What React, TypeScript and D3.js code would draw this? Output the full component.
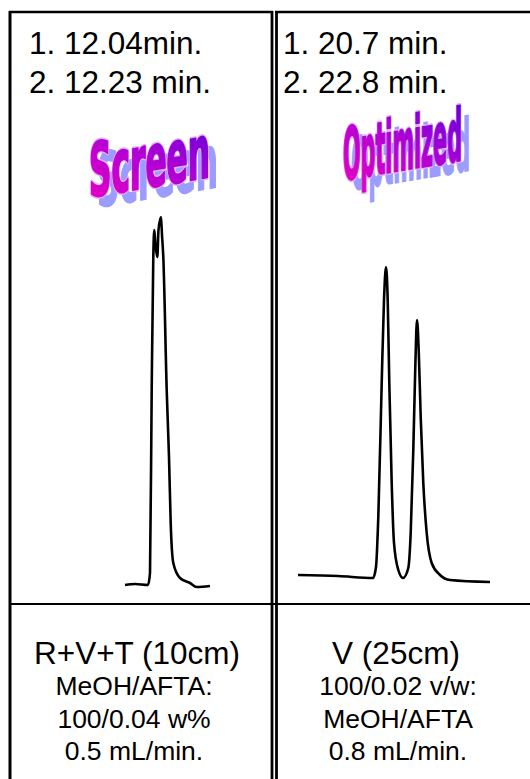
import * as d3 from "d3";
import { useLayoutEffect, useRef } from "react";

// retention times shown in the header of each panel
const screenTimes = ["1. 12.04min.", "2. 12.23 min."];
const optimizedTimes = ["1. 20.7 min.", "2. 22.8 min."];

// conditions printed under each chromatogram
const screenConditions = ["MeOH/AFTA:", "100/0.04 w%", "0.5 mL/min."];
const optimizedConditions = ["100/0.02 v/w:", "MeOH/AFTA", "0.8 mL/min."];
const screenColumn = "R+V+T (10cm)";
const optimizedColumn = "V (25cm)";

// screen trace: time (arb.) and detector signal (arb.)
const screenT = [0, 10, 23, 25, 26.7, 28.3, 29.3, 30.5, 32.3, 33.5, 36, 37, 38.3, 41.7, 44, 45.7, 48.3, 55, 65, 71.7, 85];
const screenS = [0, 1, 0, 12, 195, 328, 355, 340, 328, 355, 368, 350, 328, 195, 128, 62, 22, 7, 2, -2, -1];

// optimized trace
const optT = [0, 40, 75, 78, 80.3, 83.7, 86, 88, 89.7, 91.3, 93.7, 96, 100.3, 105, 110.3, 112.7, 115.3, 117.3, 119, 120.7, 122.7, 125.3, 128.7, 133.7, 142, 152, 192];
const optS = [7, 6, 4, 15, 65, 199, 282, 315, 282, 199, 99, 39, 12, 4, 14, 49, 132, 215, 262, 232, 165, 99, 49, 19, 7, 2, 0];

const W = 530;
const H = 779;

const line = (t: number[], s: number[], x: d3.ScaleLinear<number, number>, y: d3.ScaleLinear<number, number>) =>
  d3
    .line<number>()
    .x((_, i) => x(t[i]))
    .y((d) => y(d))
    .curve(d3.curveMonotoneX)(s) || "";

// slanted gradient title with a drop shadow, squeezed to a given width
const WordArt = ({ text, x, y, len, size, id }: { text: string; x: number; y: number; len: number; size: number; id: string }) => {
  const ref = useRef<SVGGElement>(null);

  useLayoutEffect(() => {
    const g = d3.select(ref.current);
    g.selectAll<SVGTextElement, unknown>("text").each(function () {
      const w = this.getComputedTextLength();
      if (w > 0) d3.select(this).attr("transform", `scale(${len / w},1)`);
    });
  }, [text, len, size]);

  const fontFamily = "'DejaVu Sans Condensed', 'DejaVu Sans'";
  return (
    <g ref={ref}>
      <g transform={`translate(${x + 8},${y + 10}) skewY(-9.5)`}>
        <text fontFamily={fontFamily} fontWeight="bold" fontSize={size} fill="#9c9cff" stroke="#9c9cff" strokeWidth={2}>
          {text}
        </text>
      </g>
      <g transform={`translate(${x},${y}) skewY(-9.5)`}>
        <text fontFamily={fontFamily} fontWeight="bold" fontSize={size} fill="none" stroke="#e2b0ff" strokeWidth={5} strokeLinejoin="round">
          {text}
        </text>
        <text fontFamily={fontFamily} fontWeight="bold" fontSize={size} fill={`url(#${id})`} stroke={`url(#${id})`} strokeWidth={2.2} strokeLinejoin="round">
          {text}
        </text>
      </g>
    </g>
  );
};

export default function App() {
  const xL = d3.scaleLinear().domain([0, 85]).range([125, 210]);
  const yL = d3.scaleLinear().domain([0, 370]).range([585, 215]);
  const xR = d3.scaleLinear().domain([0, 192]).range([298, 490]);
  const yR = d3.scaleLinear().domain([0, 315]).range([582, 267]);

  const font = "'Liberation Sans', Arial, sans-serif";

  return (
    <svg width={W} height={H} style={{ position: "absolute", left: 0, top: 0, background: "#fff" }}>
      <defs>
        {["gScreen", "gOpt"].map((id) => (
          <linearGradient key={id} id={id} x1="0" y1="1" x2="1" y2="0">
            <stop offset="0" stopColor="#ee00c0" />
            <stop offset="0.5" stopColor="#b400d4" />
            <stop offset="1" stopColor="#5800d8" />
          </linearGradient>
        ))}
      </defs>

      {/* table frame */}
      <g stroke="#000" fill="none">
        <line x1={9} x2={273} y1={12} y2={12} strokeWidth={2.5} />
        <line x1={275} x2={W} y1={12} y2={12} strokeWidth={2.5} />
        <line x1={10} x2={10} y1={11} y2={H} strokeWidth={3} />
        <line x1={272} x2={272} y1={11} y2={H} strokeWidth={2.8} />
        <line x1={276.5} x2={276.5} y1={11} y2={H} strokeWidth={2.8} />
        <line x1={10} x2={W} y1={604} y2={604} strokeWidth={2} />
      </g>

      {/* header texts */}
      <g fontFamily={font} fontSize={31.5} fill="#000">
        {screenTimes.map((t, i) => (
          <text key={t} x={29} y={54 + i * 38.5}>
            {t}
          </text>
        ))}
        {optimizedTimes.map((t, i) => (
          <text key={t} x={283} y={54 + i * 38.5}>
            {t}
          </text>
        ))}
      </g>

      <WordArt text="Screen" x={89} y={197} len={121} size={74} id="gScreen" />
      <WordArt text="Optimized" x={343} y={180} len={119} size={72} id="gOpt" />

      {/* chromatograms */}
      <path d={line(screenT, screenS, xL, yL)} fill="none" stroke="#000" strokeWidth={2.6} strokeLinejoin="round" />
      <path d={line(optT, optS, xR, yR)} fill="none" stroke="#000" strokeWidth={2.6} strokeLinejoin="round" />

      {/* conditions */}
      <g fontFamily={font} fill="#000" textAnchor="middle">
        <text x={137} y={664} fontSize={31.5}>
          {screenColumn}
        </text>
        <text x={396} y={664} fontSize={31.5}>
          {optimizedColumn}
        </text>
        {screenConditions.map((t, i) => (
          <text key={t} x={134} y={695 + i * 32.5} fontSize={26.5}>
            {t}
          </text>
        ))}
        {optimizedConditions.map((t, i) => (
          <text key={t} x={398} y={695 + i * 32.5} fontSize={26.5}>
            {t}
          </text>
        ))}
      </g>
    </svg>
  );
}
